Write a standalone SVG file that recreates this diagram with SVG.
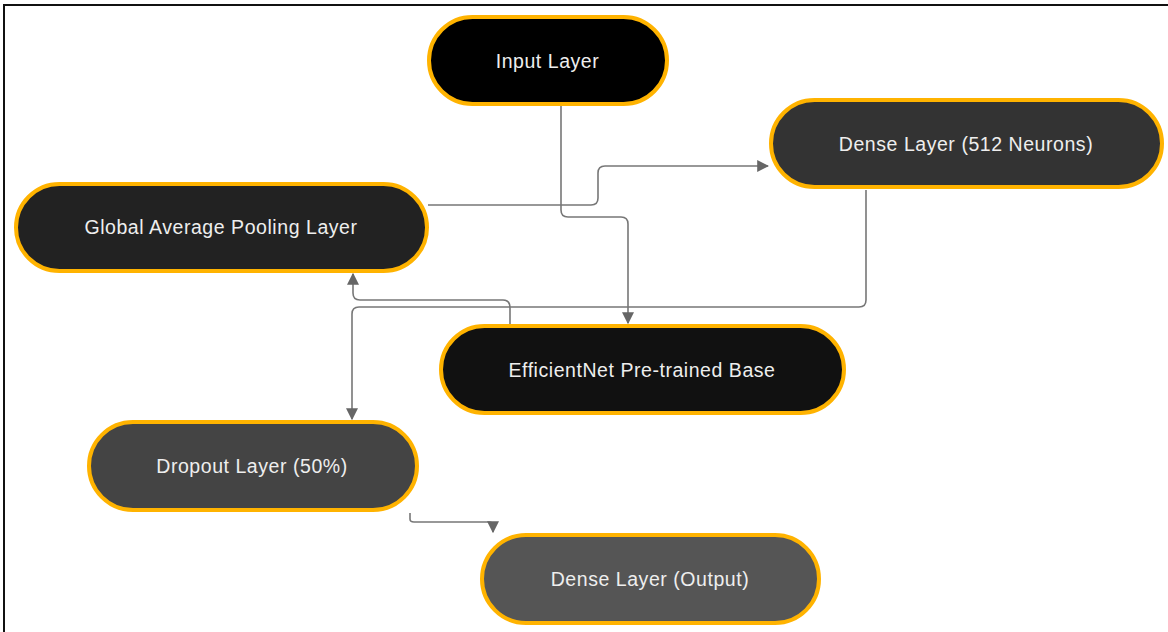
<svg xmlns="http://www.w3.org/2000/svg" width="1168" height="632" viewBox="0 0 1168 632">
<defs>
<style>
.node rect{stroke:#FFB300;stroke-width:4}
.node text{font-family:"Liberation Sans",Arial,sans-serif;font-size:19.5px;letter-spacing:0.55px;fill:#EEEEEE;text-anchor:middle;dominant-baseline:central}
.conn path{fill:none;stroke:#777777;stroke-width:1.6}
</style>
<marker id="arr" viewBox="0 0 10 10" refX="9" refY="5" markerWidth="12" markerHeight="12" markerUnits="userSpaceOnUse" orient="auto">
<path d="M0,0 L10,5 L0,10 z" fill="#666666"/>
</marker>
</defs>
<rect width="1168" height="632" fill="#FFFFFF"/>
<g id="frame" fill="none" stroke="#111111" stroke-width="2">
<path d="M4,632 V5 H1168"/>
</g>
<g class="conn" id="connectors">
<path d="M561,106 V210 Q561,217 568,217 H621 Q628,217 628,224 V323" marker-end="url(#arr)"/>
<path d="M428,205 H591 Q598,205 598,198 V173 Q598,166 605,166 H768" marker-end="url(#arr)"/>
<path d="M510,324 V308 Q510,300 503,300 H360 Q353,300 353,293 V274" marker-end="url(#arr)"/>
<path d="M866,190 V300 Q866,307 859,307 H359 Q352,307 352,314 V419" marker-end="url(#arr)"/>
<path d="M410,513 V519 Q410,522 414,522 H489 Q493,522 493,526 V532" marker-end="url(#arr)"/>
</g>
<g class="node" id="input-layer">
<rect x="429" y="17" width="238" height="87" rx="43.5" fill="#000000"/>
<text x="547.5" y="61">Input Layer</text>
</g>
<g class="node" id="dense-512">
<rect x="771" y="100" width="391" height="87" rx="43.5" fill="#333333"/>
<text x="966" y="144">Dense Layer (512 Neurons)</text>
</g>
<g class="node" id="global-avg-pool">
<rect x="16" y="184" width="411" height="87" rx="43.5" fill="#222222"/>
<text x="221" y="227">Global Average Pooling Layer</text>
</g>
<g class="node" id="efficientnet">
<rect x="441" y="326" width="403" height="87" rx="43.5" fill="#111111"/>
<text x="642" y="370">EfficientNet Pre-trained Base</text>
</g>
<g class="node" id="dropout">
<rect x="89" y="422" width="328" height="88" rx="44" fill="#444444"/>
<text x="252" y="466">Dropout Layer (50%)</text>
</g>
<g class="node" id="dense-output">
<rect x="482" y="535" width="337" height="88" rx="44" fill="#555555"/>
<text x="650" y="579">Dense Layer (Output)</text>
</g>
</svg>
